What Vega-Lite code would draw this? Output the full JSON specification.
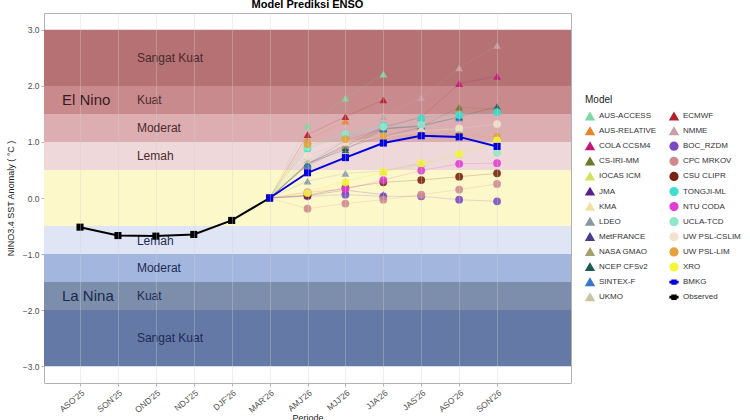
{
  "$schema": "https://vega.github.io/schema/vega-lite/v6.json",
  "width": 527,
  "height": 370,
  "autosize": {"type": "none"},
  "padding": {"left": 44, "top": 13, "right": 179, "bottom": 37},
  "background": "white",
  "title": {"text": "Model Prediksi ENSO", "fontSize": 11, "fontWeight": "bold", "font": "Liberation Sans", "anchor": "middle", "baseline": "alphabetic", "offset": 0, "dy": 6, "frame": "group", "color": "#000000"},
  "config": {
    "font": "Liberation Sans",
    "view": {"stroke": "#b3b3b3", "strokeWidth": 1},
    "axis": {"labelFont": "Liberation Sans", "labelFontSize": 8.5, "labelColor": "#4d4d4d", "tickColor": "#b3b3b3", "tickSize": 3, "domain": false, "grid": false, "titleFont": "Liberation Sans", "titleFontSize": 9, "titleFontWeight": "normal", "titleColor": "#222222"},
    "legend": {"labelFont": "Liberation Sans", "titleFont": "Liberation Sans"}
  },
  "datasets": {
    "bands": [
      {"band": "EN4", "lo": 2.0, "hi": 3.0},
      {"band": "EN3", "lo": 1.5, "hi": 2.0},
      {"band": "EN2", "lo": 1.0, "hi": 1.5},
      {"band": "EN1", "lo": 0.5, "hi": 1.0},
      {"band": "N", "lo": -0.5, "hi": 0.5},
      {"band": "LN1", "lo": -1.0, "hi": -0.5},
      {"band": "LN2", "lo": -1.5, "hi": -1.0},
      {"band": "LN3", "lo": -2.0, "hi": -1.5},
      {"band": "LN4", "lo": -3.0, "hi": -2.0}
    ],
    "bandlabels": [
      {"label": "Sangat Kuat", "v": 2.5, "side": "EN"},
      {"label": "Kuat", "v": 1.75, "side": "EN"},
      {"label": "Moderat", "v": 1.25, "side": "EN"},
      {"label": "Lemah", "v": 0.75, "side": "EN"},
      {"label": "Lemah", "v": -0.77, "side": "LN"},
      {"label": "Moderat", "v": -1.25, "side": "LN"},
      {"label": "Kuat", "v": -1.75, "side": "LN"},
      {"label": "Sangat Kuat", "v": -2.5, "side": "LN"}
    ],
    "phases": [
      {"label": "El Nino", "v": 1.75, "side": "EN"},
      {"label": "La Nina", "v": -1.75, "side": "LN"}
    ],
    "models": [
      {"m": "AUS-ACCESS", "p": "MAR'26", "v": 0}, {"m": "AUS-ACCESS", "p": "AMJ'26", "v": 1.29}, {"m": "AUS-ACCESS", "p": "MJJ'26", "v": 1.78}, {"m": "AUS-ACCESS", "p": "JJA'26", "v": 2.21},
      {"m": "AUS-RELATIVE", "p": "MAR'26", "v": 0}, {"m": "AUS-RELATIVE", "p": "AMJ'26", "v": 1.03}, {"m": "AUS-RELATIVE", "p": "MJJ'26", "v": 1.37},
      {"m": "COLA CCSM4", "p": "MAR'26", "v": 0}, {"m": "COLA CCSM4", "p": "AMJ'26", "v": 0.6}, {"m": "COLA CCSM4", "p": "MJJ'26", "v": 0.95}, {"m": "COLA CCSM4", "p": "JJA'26", "v": 1.26}, {"m": "COLA CCSM4", "p": "JAS'26", "v": 1.44}, {"m": "COLA CCSM4", "p": "ASO'26", "v": 2.04}, {"m": "COLA CCSM4", "p": "SON'26", "v": 2.17},
      {"m": "CS-IRI-MM", "p": "MAR'26", "v": 0}, {"m": "CS-IRI-MM", "p": "AMJ'26", "v": 0.62}, {"m": "CS-IRI-MM", "p": "MJJ'26", "v": 0.92}, {"m": "CS-IRI-MM", "p": "JJA'26", "v": 1.24}, {"m": "CS-IRI-MM", "p": "JAS'26", "v": 1.28}, {"m": "CS-IRI-MM", "p": "ASO'26", "v": 1.62}, {"m": "CS-IRI-MM", "p": "SON'26", "v": 1.58},
      {"m": "IOCAS ICM", "p": "MAR'26", "v": 0}, {"m": "IOCAS ICM", "p": "AMJ'26", "v": 0.12}, {"m": "IOCAS ICM", "p": "MJJ'26", "v": 0.3}, {"m": "IOCAS ICM", "p": "JJA'26", "v": 0.46}, {"m": "IOCAS ICM", "p": "JAS'26", "v": 0.6}, {"m": "IOCAS ICM", "p": "ASO'26", "v": 0.78}, {"m": "IOCAS ICM", "p": "SON'26", "v": 1.0},
      {"m": "JMA", "p": "MAR'26", "v": 0}, {"m": "JMA", "p": "AMJ'26", "v": 0.04}, {"m": "JMA", "p": "MJJ'26", "v": 0.14}, {"m": "JMA", "p": "JJA'26", "v": 0.06},
      {"m": "KMA", "p": "MAR'26", "v": 0}, {"m": "KMA", "p": "AMJ'26", "v": 0.66}, {"m": "KMA", "p": "MJJ'26", "v": 0.98}, {"m": "KMA", "p": "JJA'26", "v": 1.1}, {"m": "KMA", "p": "JAS'26", "v": 1.2}, {"m": "KMA", "p": "ASO'26", "v": 1.24},
      {"m": "LDEO", "p": "MAR'26", "v": 0}, {"m": "LDEO", "p": "AMJ'26", "v": 0.3}, {"m": "LDEO", "p": "MJJ'26", "v": 0.44}, {"m": "LDEO", "p": "JJA'26", "v": 0.48}, {"m": "LDEO", "p": "JAS'26", "v": 0.62},
      {"m": "MetFRANCE", "p": "MAR'26", "v": 0}, {"m": "MetFRANCE", "p": "AMJ'26", "v": 0.58}, {"m": "MetFRANCE", "p": "MJJ'26", "v": 0.9}, {"m": "MetFRANCE", "p": "JJA'26", "v": 1.1}, {"m": "MetFRANCE", "p": "JAS'26", "v": 1.26},
      {"m": "NASA GMAO", "p": "MAR'26", "v": 0}, {"m": "NASA GMAO", "p": "AMJ'26", "v": 0.6}, {"m": "NASA GMAO", "p": "MJJ'26", "v": 0.94}, {"m": "NASA GMAO", "p": "JJA'26", "v": 1.28}, {"m": "NASA GMAO", "p": "JAS'26", "v": 1.44}, {"m": "NASA GMAO", "p": "ASO'26", "v": 1.5},
      {"m": "NCEP CFSv2", "p": "MAR'26", "v": 0}, {"m": "NCEP CFSv2", "p": "AMJ'26", "v": 0.62}, {"m": "NCEP CFSv2", "p": "MJJ'26", "v": 0.86}, {"m": "NCEP CFSv2", "p": "JJA'26", "v": 1.23}, {"m": "NCEP CFSv2", "p": "JAS'26", "v": 1.28}, {"m": "NCEP CFSv2", "p": "ASO'26", "v": 1.45}, {"m": "NCEP CFSv2", "p": "SON'26", "v": 1.63},
      {"m": "SINTEX-F", "p": "MAR'26", "v": 0}, {"m": "SINTEX-F", "p": "AMJ'26", "v": 0.6}, {"m": "SINTEX-F", "p": "MJJ'26", "v": 1.03}, {"m": "SINTEX-F", "p": "JJA'26", "v": 1.24}, {"m": "SINTEX-F", "p": "JAS'26", "v": 1.3}, {"m": "SINTEX-F", "p": "ASO'26", "v": 1.43},
      {"m": "UKMO", "p": "MAR'26", "v": 0}, {"m": "UKMO", "p": "AMJ'26", "v": 0.68}, {"m": "UKMO", "p": "MJJ'26", "v": 1.0}, {"m": "UKMO", "p": "JJA'26", "v": 1.47},
      {"m": "ECMWF", "p": "MAR'26", "v": 0}, {"m": "ECMWF", "p": "AMJ'26", "v": 1.13}, {"m": "ECMWF", "p": "MJJ'26", "v": 1.45}, {"m": "ECMWF", "p": "JJA'26", "v": 1.75},
      {"m": "NMME", "p": "MAR'26", "v": 0}, {"m": "NMME", "p": "AMJ'26", "v": 0.75}, {"m": "NMME", "p": "MJJ'26", "v": 1.02}, {"m": "NMME", "p": "JJA'26", "v": 1.45}, {"m": "NMME", "p": "JAS'26", "v": 1.79}, {"m": "NMME", "p": "ASO'26", "v": 2.32}, {"m": "NMME", "p": "SON'26", "v": 2.72},
      {"m": "BOC_RZDM", "p": "MAR'26", "v": 0}, {"m": "BOC_RZDM", "p": "AMJ'26", "v": 0.03}, {"m": "BOC_RZDM", "p": "MJJ'26", "v": 0.06}, {"m": "BOC_RZDM", "p": "JJA'26", "v": 0.03}, {"m": "BOC_RZDM", "p": "JAS'26", "v": 0.03}, {"m": "BOC_RZDM", "p": "ASO'26", "v": -0.03}, {"m": "BOC_RZDM", "p": "SON'26", "v": -0.06},
      {"m": "CPC MRKOV", "p": "MAR'26", "v": 0}, {"m": "CPC MRKOV", "p": "AMJ'26", "v": -0.19}, {"m": "CPC MRKOV", "p": "MJJ'26", "v": -0.1}, {"m": "CPC MRKOV", "p": "JJA'26", "v": -0.03}, {"m": "CPC MRKOV", "p": "JAS'26", "v": 0.06}, {"m": "CPC MRKOV", "p": "ASO'26", "v": 0.15}, {"m": "CPC MRKOV", "p": "SON'26", "v": 0.25},
      {"m": "CSU CLIPR", "p": "MAR'26", "v": 0}, {"m": "CSU CLIPR", "p": "AMJ'26", "v": 0.05}, {"m": "CSU CLIPR", "p": "MJJ'26", "v": 0.18}, {"m": "CSU CLIPR", "p": "JJA'26", "v": 0.28}, {"m": "CSU CLIPR", "p": "JAS'26", "v": 0.32}, {"m": "CSU CLIPR", "p": "ASO'26", "v": 0.38}, {"m": "CSU CLIPR", "p": "SON'26", "v": 0.44},
      {"m": "TONGJI-ML", "p": "MAR'26", "v": 0}, {"m": "TONGJI-ML", "p": "AMJ'26", "v": 0.88}, {"m": "TONGJI-ML", "p": "MJJ'26", "v": 1.12}, {"m": "TONGJI-ML", "p": "JJA'26", "v": 1.29}, {"m": "TONGJI-ML", "p": "JAS'26", "v": 1.42}, {"m": "TONGJI-ML", "p": "ASO'26", "v": 1.48}, {"m": "TONGJI-ML", "p": "SON'26", "v": 1.53},
      {"m": "NTU CODA", "p": "MAR'26", "v": 0}, {"m": "NTU CODA", "p": "AMJ'26", "v": 0.1}, {"m": "NTU CODA", "p": "MJJ'26", "v": 0.16}, {"m": "NTU CODA", "p": "JJA'26", "v": 0.32}, {"m": "NTU CODA", "p": "JAS'26", "v": 0.49}, {"m": "NTU CODA", "p": "ASO'26", "v": 0.61}, {"m": "NTU CODA", "p": "SON'26", "v": 0.62},
      {"m": "UCLA-TCD", "p": "MAR'26", "v": 0}, {"m": "UCLA-TCD", "p": "AMJ'26", "v": 0.91}, {"m": "UCLA-TCD", "p": "MJJ'26", "v": 1.14}, {"m": "UCLA-TCD", "p": "JJA'26", "v": 1.27}, {"m": "UCLA-TCD", "p": "JAS'26", "v": 1.3}, {"m": "UCLA-TCD", "p": "ASO'26", "v": 1.2}, {"m": "UCLA-TCD", "p": "SON'26", "v": 0.81},
      {"m": "UW PSL-CSLIM", "p": "MAR'26", "v": 0}, {"m": "UW PSL-CSLIM", "p": "AMJ'26", "v": 0.75}, {"m": "UW PSL-CSLIM", "p": "MJJ'26", "v": 1.0}, {"m": "UW PSL-CSLIM", "p": "JJA'26", "v": 1.09}, {"m": "UW PSL-CSLIM", "p": "JAS'26", "v": 1.18}, {"m": "UW PSL-CSLIM", "p": "ASO'26", "v": 1.24}, {"m": "UW PSL-CSLIM", "p": "SON'26", "v": 1.32},
      {"m": "UW PSL-LIM", "p": "MAR'26", "v": 0}, {"m": "UW PSL-LIM", "p": "AMJ'26", "v": 0.96}, {"m": "UW PSL-LIM", "p": "MJJ'26", "v": 1.05}, {"m": "UW PSL-LIM", "p": "JJA'26", "v": 1.1}, {"m": "UW PSL-LIM", "p": "JAS'26", "v": 1.12}, {"m": "UW PSL-LIM", "p": "ASO'26", "v": 1.12}, {"m": "UW PSL-LIM", "p": "SON'26", "v": 1.09},
      {"m": "XRO", "p": "MAR'26", "v": 0}, {"m": "XRO", "p": "AMJ'26", "v": 0.09}, {"m": "XRO", "p": "MJJ'26", "v": 0.28}, {"m": "XRO", "p": "JJA'26", "v": 0.47}, {"m": "XRO", "p": "JAS'26", "v": 0.62}, {"m": "XRO", "p": "ASO'26", "v": 0.79}, {"m": "XRO", "p": "SON'26", "v": 1.03}
    ],
    "main": [
      {"m": "Observed", "p": "ASO'25", "v": -0.52}, {"m": "Observed", "p": "SON'25", "v": -0.67}, {"m": "Observed", "p": "OND'25", "v": -0.68}, {"m": "Observed", "p": "NDJ'25", "v": -0.65}, {"m": "Observed", "p": "DJF'26", "v": -0.4}, {"m": "Observed", "p": "MAR'26", "v": 0.0},
      {"m": "BMKG", "p": "MAR'26", "v": 0.0}, {"m": "BMKG", "p": "AMJ'26", "v": 0.45}, {"m": "BMKG", "p": "MJJ'26", "v": 0.72}, {"m": "BMKG", "p": "JJA'26", "v": 0.98}, {"m": "BMKG", "p": "JAS'26", "v": 1.11}, {"m": "BMKG", "p": "ASO'26", "v": 1.09}, {"m": "BMKG", "p": "SON'26", "v": 0.92}
    ]
  },
  "layer": [
    {
      "data": {"name": "bands"},
      "mark": {"type": "rect"},
      "encoding": {
        "y": {"field": "lo", "type": "quantitative", "scale": {"domain": [-3.3, 3.3], "nice": false, "zero": false}, "title": "NINO3.4 SST Anomaly ( °C )", "axis": {"values": [-3, -2.5, -2, -1.5, -1, -0.5, 0, 0.5, 1, 1.5, 2, 2.5, 3], "format": ".1f", "titlePadding": 7, "labelPadding": 2}},
        "y2": {"field": "hi"},
        "fill": {"field": "band", "type": "nominal", "legend": null, "scale": {"domain": ["EN4", "EN3", "EN2", "EN1", "N", "LN1", "LN2", "LN3", "LN4"], "range": ["#b57173", "#c98a8d", "#dcaeb1", "#eed8d9", "#fdf8c9", "#dfe5f5", "#a3b6de", "#7c8eab", "#6479a6"]}}
      }
    },
    {
      "mark": {"type": "rule", "color": "#c8703a", "strokeWidth": 1, "strokeDash": [3, 3]},
      "encoding": {"y": {"datum": 0.5, "type": "quantitative", "title": "NINO3.4 SST Anomaly ( °C )"}}
    },
    {
      "mark": {"type": "rule", "color": "#000000", "strokeWidth": 1, "strokeDash": [4, 4]},
      "encoding": {"y": {"datum": 0, "type": "quantitative", "title": "NINO3.4 SST Anomaly ( °C )"}}
    },
    {
      "mark": {"type": "rule", "color": "#a9a48c", "strokeWidth": 1, "strokeDash": [3, 3]},
      "encoding": {"y": {"datum": -0.5, "type": "quantitative", "title": "NINO3.4 SST Anomaly ( °C )"}}
    },
    {
      "data": {"name": "bandlabels"},
      "mark": {"type": "text", "align": "left", "baseline": "middle", "fontSize": 12, "dx": 19, "font": "Liberation Sans"},
      "encoding": {
        "x": {"datum": "SON'25", "type": "ordinal", "title": "Periode"},
        "y": {"field": "v", "type": "quantitative", "title": "NINO3.4 SST Anomaly ( °C )"},
        "text": {"field": "label"},
        "color": {"condition": {"test": "datum.side === 'EN'", "value": "#4a2a2c"}, "value": "#1c2b55"}
      }
    },
    {
      "data": {"name": "phases"},
      "mark": {"type": "text", "align": "left", "baseline": "middle", "fontSize": 15, "dx": -18, "font": "Liberation Sans"},
      "encoding": {
        "x": {"datum": "ASO'25", "type": "ordinal", "title": "Periode"},
        "y": {"field": "v", "type": "quantitative", "title": "NINO3.4 SST Anomaly ( °C )"},
        "text": {"field": "label"},
        "color": {"condition": {"test": "datum.side === 'EN'", "value": "#3a1c1e"}, "value": "#1a2850"}
      }
    },
    {
      "data": {"name": "models"},
      "mark": {"type": "line", "strokeWidth": 0.6, "opacity": 0.35},
      "encoding": {
        "x": {"field": "p", "type": "ordinal", "title": "Periode"},
        "y": {"field": "v", "type": "quantitative", "title": "NINO3.4 SST Anomaly ( °C )"},
        "color": {"field": "m", "type": "nominal", "title": "Model"}
      }
    },
    {
      "data": {"name": "models"},
      "transform": [{"filter": "datum.p !== \"MAR'26\""}],
      "mark": {"type": "point", "filled": true, "size": 60, "opacity": 0.9},
      "encoding": {
        "x": {"field": "p", "type": "ordinal", "title": "Periode",
          "scale": {"type": "point", "padding": 0.95, "domain": ["ASO'25", "SON'25", "OND'25", "NDJ'25", "DJF'26", "MAR'26", "AMJ'26", "MJJ'26", "JJA'26", "JAS'26", "ASO'26", "SON'26", " "]},
          "axis": {"values": ["ASO'25", "SON'25", "OND'25", "NDJ'25", "DJF'26", "MAR'26", "AMJ'26", "MJJ'26", "JJA'26", "JAS'26", "ASO'26", "SON'26"], "labelAngle": -40, "labelAlign": "right", "labelBaseline": "top", "labelPadding": 2, "grid": true, "gridColor": "#d0d0d0", "gridOpacity": 0.35, "zindex": 1, "titlePadding": 0}},
        "y": {"field": "v", "type": "quantitative", "title": "NINO3.4 SST Anomaly ( °C )"},
        "color": {"field": "m", "type": "nominal", "title": "Model",
          "scale": {
            "domain": ["AUS-ACCESS", "AUS-RELATIVE", "COLA CCSM4", "CS-IRI-MM", "IOCAS ICM", "JMA", "KMA", "LDEO", "MetFRANCE", "NASA GMAO", "NCEP CFSv2", "SINTEX-F", "UKMO", "ECMWF", "NMME", "BOC_RZDM", "CPC MRKOV", "CSU CLIPR", "TONGJI-ML", "NTU CODA", "UCLA-TCD", "UW PSL-CSLIM", "UW PSL-LIM", "XRO", "BMKG", "Observed"],
            "range": ["#7fd8a2", "#e8852a", "#c2177a", "#6b7a2a", "#d6e060", "#5b1f8c", "#f2dfa0", "#8797a5", "#4b3a8f", "#a89f6a", "#1d5c50", "#3478d0", "#c9c3a2", "#b3202a", "#c9a0a6", "#7b4bc4", "#d08a8f", "#7a2412", "#3de0d0", "#e03fd2", "#8ee8c8", "#f2e3cf", "#e3a23a", "#f5f53a", "#0000e0", "#000000"]},
          "legend": {"orient": "none", "legendX": 541, "legendY": 82, "columns": 2, "columnPadding": 10, "rowPadding": 1.1, "symbolSize": 60, "symbolOpacity": 1, "labelFontSize": 8, "labelColor": "#333333", "titleFontSize": 10, "titleFontWeight": "normal", "titleColor": "#222222", "titlePadding": 6, "encode": {"symbols": {"update": {"opacity": {"value": 1}, "fillOpacity": {"value": 1}, "strokeOpacity": {"value": 1}}}}}},
        "shape": {"field": "m", "type": "nominal", "title": "Model",
          "scale": {
            "domain": ["AUS-ACCESS", "AUS-RELATIVE", "COLA CCSM4", "CS-IRI-MM", "IOCAS ICM", "JMA", "KMA", "LDEO", "MetFRANCE", "NASA GMAO", "NCEP CFSv2", "SINTEX-F", "UKMO", "ECMWF", "NMME", "BOC_RZDM", "CPC MRKOV", "CSU CLIPR", "TONGJI-ML", "NTU CODA", "UCLA-TCD", "UW PSL-CSLIM", "UW PSL-LIM", "XRO", "BMKG", "Observed"],
            "range": ["triangle-up", "triangle-up", "triangle-up", "triangle-up", "triangle-up", "triangle-up", "triangle-up", "triangle-up", "triangle-up", "triangle-up", "triangle-up", "triangle-up", "triangle-up", "triangle-up", "triangle-up", "circle", "circle", "circle", "circle", "circle", "circle", "circle", "circle", "circle", "M-1,-0.16H1V0.16H-1Z M-0.5,-0.5H0.5V0.5H-0.5Z", "M-1,-0.16H1V0.16H-1Z M-0.5,-0.5H0.5V0.5H-0.5Z"]},
          "legend": {"orient": "none", "legendX": 541, "legendY": 82, "columns": 2, "columnPadding": 10, "rowPadding": 1.1, "symbolSize": 60, "symbolOpacity": 1, "labelFontSize": 8, "labelColor": "#333333", "titleFontSize": 10, "titleFontWeight": "normal", "titleColor": "#222222", "titlePadding": 6, "encode": {"symbols": {"update": {"opacity": {"value": 1}, "fillOpacity": {"value": 1}, "strokeOpacity": {"value": 1}}}}}}
      }
    },
    {
      "mark": {"type": "rule", "color": "#000000", "opacity": 0.65, "strokeWidth": 2, "strokeDash": [8, 6]},
      "encoding": {"x": {"datum": "MAR'26", "type": "ordinal", "title": "Periode"}}
    },
    {
      "data": {"name": "main"},
      "mark": {"type": "line", "strokeWidth": 2},
      "encoding": {
        "x": {"field": "p", "type": "ordinal", "title": "Periode"},
        "y": {"field": "v", "type": "quantitative", "title": "NINO3.4 SST Anomaly ( °C )"},
        "color": {"field": "m", "type": "nominal", "title": "Model"}
      }
    },
    {
      "data": {"name": "main"},
      "mark": {"type": "square", "size": 50, "opacity": 1},
      "encoding": {
        "x": {"field": "p", "type": "ordinal", "title": "Periode"},
        "y": {"field": "v", "type": "quantitative", "title": "NINO3.4 SST Anomaly ( °C )"},
        "color": {"field": "m", "type": "nominal", "title": "Model"}
      }
    }
  ]
}
